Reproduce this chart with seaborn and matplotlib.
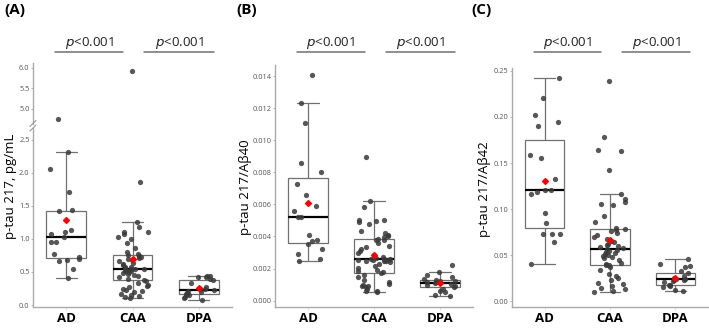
import numpy as np
import pandas as pd
import matplotlib
matplotlib.use("Agg")
import matplotlib.pyplot as plt
import matplotlib.transforms as mtransforms
from matplotlib.ticker import FormatStrFormatter
import seaborn as sns

sns.set_style("white")
plt.rcParams['font.family'] = ['Open Sans', 'DejaVu Sans']

groups = ["AD", "CAA", "DPA"]

# (A) p-tau 217, pg/mL
a_ad = [0.41, 0.55, 0.66, 0.68, 0.70, 0.73, 0.77, 0.96, 0.96, 1.03,
        1.07, 1.10, 1.13, 1.42, 1.44, 1.71, 2.06, 2.31, 4.75]
a_caa = [0.11, 0.12, 0.13, 0.15, 0.17, 0.19, 0.21, 0.23, 0.25, 0.27,
         0.29, 0.31, 0.34, 0.37, 0.382, 0.40, 0.42, 0.44, 0.46, 0.47,
         0.49, 0.50, 0.51, 0.52, 0.53, 0.54, 0.545, 0.55, 0.56, 0.57,
         0.58, 0.60, 0.62, 0.64, 0.66, 0.68, 0.70, 0.71, 0.72, 0.74,
         0.748, 0.756, 0.77, 0.80, 0.87, 0.94, 1.00, 1.03, 1.07, 1.10,
         1.11, 1.18, 1.25, 1.86, 5.93]
a_dpa = [0.07, 0.10, 0.12, 0.15, 0.16, 0.165, 0.18, 0.20, 0.21, 0.22,
         0.24, 0.25, 0.28, 0.33, 0.38, 0.40, 0.42, 0.43, 0.44, 0.44]

# (B) p-tau 217/Abeta40
b_ad = [0.0025, 0.0026, 0.0029, 0.0032, 0.0035, 0.0037, 0.0038, 0.0041, 0.0052, 0.0052,
        0.0056, 0.0059, 0.0066, 0.0073, 0.0080, 0.0086, 0.0111, 0.0123, 0.01406]
b_caa = [0.00054, 0.00058, 0.00062, 0.00070, 0.00082, 0.00088, 0.00094, 0.00098, 0.00102, 0.00115,
         0.00130, 0.00150, 0.00160, 0.00170, 0.00178, 0.00182, 0.00190, 0.00205, 0.00215, 0.00230,
         0.00238, 0.00244, 0.00248, 0.00250, 0.00252, 0.00254, 0.00256, 0.00257, 0.00260, 0.00262,
         0.00266, 0.00272, 0.00285, 0.00300, 0.00310, 0.00322, 0.00332, 0.00340, 0.00360, 0.00378,
         0.00380, 0.00386, 0.00395, 0.00400, 0.00410, 0.00420, 0.00435, 0.00480, 0.00490, 0.00495,
         0.00500, 0.00502, 0.00585, 0.00620, 0.00899]
b_dpa = [0.00030, 0.00032, 0.00056, 0.00062, 0.00072, 0.00086, 0.00090, 0.00098, 0.00104, 0.00110,
         0.00114, 0.00118, 0.00120, 0.00122, 0.00126, 0.00134, 0.00150, 0.00158, 0.00180, 0.00222]

# (C) p-tau 217/Abeta42
c_ad = [0.0405, 0.0645, 0.0727, 0.0734, 0.0734, 0.0852, 0.0963, 0.116, 0.119, 0.121,
        0.121, 0.1325, 0.155, 0.159, 0.190, 0.194, 0.2016, 0.220, 0.2418]
c_caa = [0.0100, 0.0110, 0.0130, 0.0150, 0.0170, 0.0190, 0.0200, 0.0230, 0.0250, 0.0280,
         0.0300, 0.0340, 0.0370, 0.0390, 0.0398, 0.0410, 0.0420, 0.0450, 0.0470, 0.0480,
         0.0490, 0.0500, 0.0510, 0.0520, 0.0535, 0.0545, 0.0555, 0.0566, 0.0580, 0.0590,
         0.0600, 0.0610, 0.0620, 0.0640, 0.0660, 0.0680, 0.0700, 0.0720, 0.0740, 0.0760,
         0.0775, 0.0787, 0.0800, 0.0860, 0.0930, 0.1046, 0.1060, 0.1080, 0.1107, 0.1168,
         0.1420, 0.1630, 0.1640, 0.1787, 0.2385]
c_dpa = [0.0115, 0.012, 0.016, 0.017, 0.0178, 0.018, 0.021, 0.0225, 0.0235, 0.0238,
         0.0242, 0.0245, 0.025, 0.0276, 0.0305, 0.0335, 0.037, 0.0383, 0.0405, 0.0462]

p_text = "$p$<0.001"


def make_df(ad, caa, dpa):
    return pd.DataFrame({
        "group": ["AD"] * len(ad) + ["CAA"] * len(caa) + ["DPA"] * len(dpa),
        "value": ad + caa + dpa,
    })


def draw(ax, df, seed):
    sns.boxplot(data=df, x="group", y="value", order=groups, width=0.6,
                color="white", linecolor="#707070", linewidth=0.9,
                showfliers=False, showmeans=True,
                meanprops=dict(marker="D", markerfacecolor="red", markeredgecolor="red",
                               markersize=3.0, zorder=6),
                medianprops=dict(color="black", linewidth=1.6),
                capwidths=0.32, ax=ax)
    np.random.seed(seed)
    sns.stripplot(data=df, x="group", y="value", order=groups, jitter=0.25,
                  color="#3a3a3a", alpha=0.85, size=3.8, linewidth=0, zorder=4, ax=ax)
    ax.set_xlim(-0.5, 2.5)
    ax.set_xlabel("")
    ax.set_ylabel("")
    for side in ["top", "right"]:
        ax.spines[side].set_visible(False)
    for side in ["left", "bottom"]:
        ax.spines[side].set_color("#aaaaaa")
        ax.spines[side].set_linewidth(1.0)
    ax.tick_params(axis="y", labelsize=5.3, labelcolor="#555555", length=1.5,
                   width=0.6, color="#aaaaaa", pad=1, left=True)
    ax.tick_params(axis="x", length=2, width=0.6, color="#dddddd", pad=1.5, bottom=True)
    for lab in ax.get_xticklabels():
        lab.set_fontweight("bold")
        lab.set_fontsize(9.5)
        lab.set_color("black")


def pvals(fig, ax):
    trans = mtransforms.blended_transform_factory(ax.transData, fig.transFigure)
    y_line = 1 - 52 / 328
    y_txt = 1 - 43 / 328
    for x0, x1 in [(-0.17, 0.86), (1.18, 2.23)]:
        ax.plot([x0, x1], [y_line, y_line], color="#707070", lw=1.1,
                transform=trans, clip_on=False)
        ax.text((x0 + x1) / 2, y_txt, p_text, transform=trans, ha="center",
                va="center", fontsize=9.5, color="#222222")


W, H = 709, 328
fig = plt.figure(figsize=(W / 100, H / 100), dpi=100)


def box(l, t, r, b):
    return [l / W, 1 - b / H, (r - l) / W, (b - t) / H]


bottom = 307
# Panel A: broken axis
ax_a_hi = fig.add_axes(box(33, 63, 232, 124))
ax_a_lo = fig.add_axes(box(33, 128, 232, bottom))
ax_b = fig.add_axes(box(275, 65, 473, bottom))
ax_c = fig.add_axes(box(512, 68, 708, bottom))

df_a = make_df(a_ad, a_caa, a_dpa)
draw(ax_a_hi, df_a, 3)
draw(ax_a_lo, df_a, 3)
ax_a_hi.set_ylim(4.62, 6.12)
ax_a_lo.set_ylim(-0.03, 2.68)
ax_a_hi.set_yticks([5.0, 5.5, 6.0])
ax_a_lo.set_yticks([0.0, 0.5, 1.0, 1.5, 2.0, 2.5])
for ax in (ax_a_hi, ax_a_lo):
    ax.yaxis.set_major_formatter(FormatStrFormatter("%.1f"))
ax_a_hi.spines["bottom"].set_visible(False)
ax_a_hi.tick_params(axis="x", bottom=False, labelbottom=False)
# break marks
x_sp = 33 / W
for yb in (123.5, 128):
    fig.add_artist(plt.Line2D([x_sp - 3 / W, x_sp + 3 / W],
                              [1 - (yb + 3) / H, 1 - (yb - 3) / H],
                              color="#999999", lw=0.8))

draw(ax_b, make_df(b_ad, b_caa, b_dpa), 5)
ax_b.set_ylim(-0.0004, 0.0147)
ax_b.set_yticks(np.arange(0, 0.0141, 0.002))
ax_b.yaxis.set_major_formatter(FormatStrFormatter("%.3f"))

draw(ax_c, make_df(c_ad, c_caa, c_dpa), 7)
ax_c.set_ylim(-0.006, 0.253)
ax_c.set_yticks(np.arange(0, 0.251, 0.05))
ax_c.yaxis.set_major_formatter(FormatStrFormatter("%.2f"))

pvals(fig, ax_a_lo)
pvals(fig, ax_b)
pvals(fig, ax_c)

# y labels
fig.text(11 / W, 1 - 186 / H, "p-tau 217, pg/mL", rotation=90, ha="center",
         va="center", fontsize=9.5, color="black")
fig.text(245 / W, 1 - 187 / H, "p-tau 217/Aβ40", rotation=90, ha="center",
         va="center", fontsize=9.5, color="black")
fig.text(484 / W, 1 - 189 / H, "p-tau 217/Aβ42", rotation=90, ha="center",
         va="center", fontsize=9.5, color="black")

# panel letters
for x, s in [(4, "(A)"), (236, "(B)"), (471, "(C)")]:
    fig.text(x / W, 1 - 10 / H, s, ha="left", va="center", fontsize=11,
             fontweight="bold", color="black")

fig.savefig("out.png", dpi=100)
